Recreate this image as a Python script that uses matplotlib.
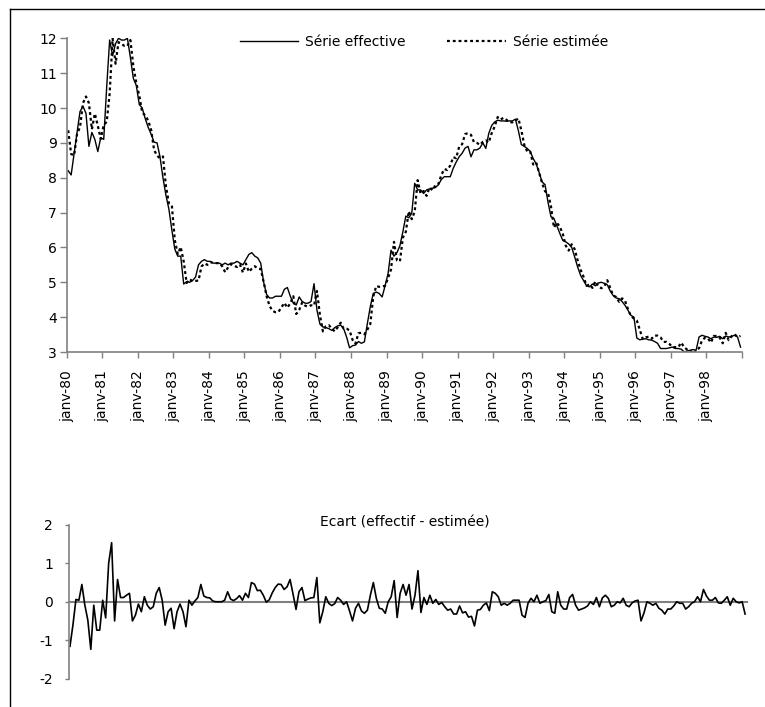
import matplotlib
matplotlib.use("Agg")
import matplotlib.pyplot as plt
from matplotlib.lines import Line2D
import numpy as np

plt.rcParams['font.family'] = ['DejaVu Sans']
plt.rcParams['font.size'] = 10
plt.rcParams['axes.unicode_minus'] = False

# monthly data, janv-80 .. dec-98
effective = [
    8.2, 8.08, 8.7, 9.3, 9.9, 10.05, 9.85, 8.9, 9.3, 9.1, 8.75, 9.15,
    9.1, 10.6, 11.95, 11.5, 11.85, 12.0, 11.95, 11.95, 12.0, 11.45, 10.85, 10.65,
    10.1, 10.0, 9.7, 9.45, 9.25, 9.02, 9.0, 8.6, 8.0, 7.5, 7.1, 6.5,
    5.95, 5.75, 5.75, 4.95, 5.02, 5.0, 5.05, 5.15, 5.5, 5.6, 5.65, 5.6,
    5.6, 5.55, 5.55, 5.55, 5.5, 5.55, 5.5, 5.55, 5.55, 5.6, 5.55, 5.5,
    5.65, 5.8, 5.85, 5.75, 5.7, 5.55, 5.0, 4.65, 4.55, 4.55, 4.6, 4.6,
    4.6, 4.8, 4.85, 4.6, 4.4, 4.35, 4.58, 4.45, 4.4, 4.4, 4.45, 4.96,
    4.2, 3.8, 3.72, 3.7, 3.67, 3.62, 3.7, 3.75, 3.77, 3.67, 3.43, 3.12,
    3.18, 3.2, 3.3, 3.25, 3.29, 3.81, 4.3, 4.68, 4.72, 4.68, 4.58, 4.9,
    5.25, 5.92, 5.75, 5.85, 6.05, 6.45, 6.9, 6.85, 6.98, 7.84, 7.65, 7.65,
    7.55, 7.65, 7.68, 7.7, 7.72, 7.8, 7.95, 8.03, 8.03, 8.03, 8.27, 8.45,
    8.6, 8.7, 8.85, 8.9, 8.6, 8.8, 8.8, 8.85, 9.0, 8.84, 9.27, 9.5,
    9.6, 9.65, 9.63, 9.63, 9.62, 9.63, 9.63, 9.68, 9.35, 8.95, 8.9, 8.84,
    8.75, 8.55, 8.4, 8.15, 7.88, 7.8, 7.3, 6.88, 6.83, 6.62, 6.4, 6.2,
    6.16, 6.1, 6.0, 5.73, 5.44, 5.2, 5.05, 4.9, 4.87, 4.95, 4.9, 4.98,
    5.0, 4.97, 4.93, 4.75, 4.62, 4.55, 4.53, 4.45, 4.34, 4.2, 4.05, 4.0,
    3.4, 3.35, 3.37, 3.38, 3.35, 3.34, 3.3, 3.25, 3.1, 3.1, 3.1, 3.12,
    3.14, 3.1, 3.1, 3.08, 3.0, 3.03, 3.05, 3.07, 3.05, 3.43, 3.48, 3.45,
    3.43, 3.38, 3.43, 3.42, 3.45, 3.38, 3.46, 3.43, 3.45, 3.48, 3.43, 3.14,
]

ecart = [
    -1.16, -0.6, 0.06, 0.04, 0.45, -0.09, -0.48, -1.24, -0.09, -0.74, -0.74, 0.04,
    -0.42, 1.0, 1.54, -0.5, 0.58, 0.11, 0.11, 0.17, 0.22, -0.5, -0.35, -0.06,
    -0.26, 0.13, -0.09, -0.19, -0.13, 0.22, 0.37, 0.04, -0.61, -0.26, -0.17, -0.7,
    -0.26, -0.06, -0.26, -0.65, 0.04, -0.09, 0.02, 0.11, 0.45, 0.15, 0.11, 0.1,
    0.02, 0.0, 0.0, 0.0, 0.04, 0.26, 0.07, 0.03, 0.08, 0.16, 0.04, 0.22,
    0.11, 0.5, 0.46, 0.29, 0.3, 0.17, -0.01, 0.05, 0.23, 0.37, 0.46, 0.45,
    0.32, 0.39, 0.58, 0.2, -0.2, 0.26, 0.37, 0.03, 0.07, 0.1, 0.11, 0.63,
    -0.55, -0.26, 0.13, -0.04, -0.1, -0.05, 0.11, 0.04, -0.07, 0.0, -0.24, -0.5,
    -0.17, -0.04, -0.24, -0.3, -0.22, 0.17, 0.5, 0.09, -0.17, -0.19, -0.3, 0.0,
    0.13, 0.55, -0.41, 0.22, 0.45, 0.17, 0.45, -0.19, 0.17, 0.81, -0.28, 0.11,
    -0.07, 0.17, -0.04, 0.06, -0.07, -0.02, -0.13, -0.22, -0.19, -0.32, -0.32, -0.11,
    -0.29, -0.26, -0.4, -0.38, -0.63, -0.22, -0.2, -0.09, -0.03, -0.23, 0.26, 0.22,
    0.13, -0.09, -0.04, -0.09, -0.04, 0.04, 0.04, 0.04, -0.35, -0.41, -0.04, 0.09,
    0.0, 0.17, -0.04, 0.0, 0.03, 0.19, -0.26, -0.3, 0.26, -0.09, -0.19, -0.19,
    0.11, 0.19, -0.09, -0.22, -0.19, -0.16, -0.11, 0.0, -0.07, 0.11, -0.13, 0.1,
    0.17, 0.09, -0.13, -0.09, 0.0, -0.03, 0.09, -0.09, -0.13, -0.03, 0.02, 0.04,
    -0.5, -0.29, 0.0, -0.04, -0.09, -0.04, -0.17, -0.22, -0.32, -0.19, -0.19, -0.11,
    0.0, -0.04, -0.04, -0.19, -0.13, -0.04, 0.0, 0.13, 0.0, 0.32, 0.15, 0.04,
    0.04, 0.11, -0.03, -0.04, 0.04, 0.13, -0.09, 0.09, 0.0, -0.03, 0.0, -0.32,
]

# estimated series follows from the chart's own definition: ecart = effectif - estimée
estimee = [e - d for e, d in zip(effective, ecart)]

year_labels = ['janv-%02d' % y for y in range(80, 99)]

W, H = 765, 707
grey = '#808080'

fig = plt.figure(figsize=(W / 100, H / 100), dpi=100)

# outer frame
fig.add_artist(Line2D([10 / W, 10 / W], [0, 1 - 9 / H], color='black', lw=1.0))
fig.add_artist(Line2D([10 / W, 1], [1 - 9 / H, 1 - 9 / H], color='black', lw=1.0))

months = np.arange(len(effective))

# ---- top panel
ax = fig.add_axes([66.7 / W, 1 - 352 / H, 675.3 / W, (352 - 38.3) / H])
l1, = ax.plot(months, effective, color='black', lw=1.0)
l2, = ax.plot(months, estimee, color='black', lw=1.6, linestyle=(0, (1.3, 1.3)))
ax.set_xlim(-0.5, len(effective) - 0.5)
ax.set_ylim(3, 12)
ax.set_yticks(range(3, 13))
ticks = [-0.5 + 12 * k for k in range(20)]
ax.set_xticks(ticks)
ax.set_xticklabels(year_labels + [''], rotation=90)
for s in ['top', 'right']:
    ax.spines[s].set_visible(False)
for s in ['left', 'bottom']:
    ax.spines[s].set_color(grey)
    ax.spines[s].set_linewidth(1.2)
ax.tick_params(axis='y', direction='out', length=5, width=1, color=grey, pad=2)
ax.tick_params(axis='x', direction='out', length=4, width=1, color=grey, pad=9)

fig.legend([l1, l2], ['Série effective', 'Série estimée'], ncol=2, frameon=False,
           loc='center', bbox_to_anchor=(424 / W, 1 - 42 / H),
           handlelength=4.2, handletextpad=0.5, columnspacing=3.0)

# ---- bottom panel
ax2 = fig.add_axes([68.5 / W, 1 - 678.5 / H, 678.1 / W, (678.5 - 525) / H])
ax2.plot(months, ecart, color='black', lw=1.2)
ax2.set_xlim(-0.5, len(ecart) - 0.5)
ax2.set_ylim(-2, 2)
ax2.set_yticks([-2, -1, 0, 1, 2])
ax2.set_xticks([])
for s in ['top', 'right']:
    ax2.spines[s].set_visible(False)
ax2.spines['bottom'].set_position(('data', 0))
ax2.spines['bottom'].set_color(grey)
ax2.spines['bottom'].set_linewidth(1.5)
ax2.spines['bottom'].set_zorder(1)
ax2.spines['left'].set_color(grey)
ax2.spines['left'].set_linewidth(1.2)
ax2.tick_params(axis='y', direction='out', length=3, width=1, color=grey, pad=8)

fig.text(405 / W, 1 - 523 / H, 'Ecart (effectif - estimée)', ha='center', va='center')

fig.savefig('out.png', dpi=100)
